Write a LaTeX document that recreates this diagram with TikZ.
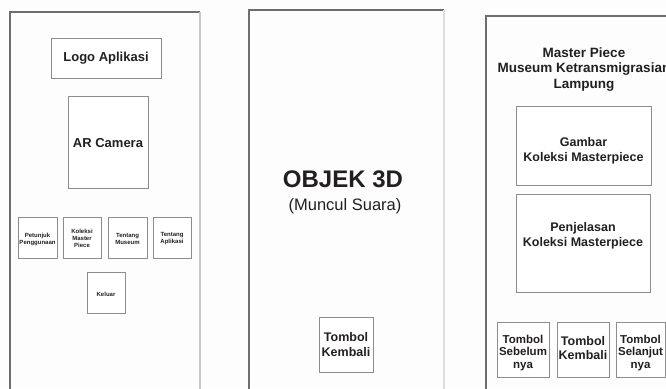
\documentclass[tikz,border=0pt]{standalone}
\usepackage{fontspec}
\setmainfont{Liberation Sans}
\definecolor{txt}{HTML}{231F20}
\definecolor{frame}{HTML}{6E6E6E}
\definecolor{lightframe}{HTML}{C8C8C8}
\definecolor{boxline}{HTML}{8C8C8C}
\definecolor{bg}{HTML}{FDFDFD}
\begin{document}
\begin{tikzpicture}[x=1pt,y=-1pt,
  box/.style={draw=boxline, line width=0.8pt, fill=white, inner sep=0pt},
  lbl/.style={inner sep=0pt, align=center, text=txt},
  tiny/.style={lbl, font=\fontsize{6}{7}\selectfont\bfseries},
  mid/.style={lbl, font=\fontsize{12.5}{14.5}\selectfont\bfseries},
  btn/.style={lbl, font=\fontsize{11.5}{12.5}\selectfont\bfseries}]
\fill[bg] (0,0) rectangle (666,388);
\useasboundingbox (0,0) rectangle (666,388);
% panel 1
\draw[frame, line width=1.2pt] (10,390) -- (10,12) -- (200,12);
\draw[lightframe, line width=1.2pt] (200,12) -- (200,390);
\node[box, minimum width=110pt, minimum height=40pt] (logo) at (106,58) {};
\node[lbl, font=\fontsize{13}{15}\selectfont\bfseries] (logot) at (106,58) {Logo Aplikasi};
\node[box, minimum width=80pt, minimum height=92pt] (cam) at (108,142) {};
\node[lbl, font=\fontsize{13}{15}\selectfont\bfseries] (camt) at (108,143) {AR Camera};
\node[box, minimum width=39pt, minimum height=41pt] (pet) at (37.5,237.5) {};
\node[tiny] (pett) at (37.5,239.5) {Petunjuk\\Penggunaan};
\node[box, minimum width=38pt, minimum height=41pt] (kol) at (82,237.5) {};
\node[tiny] (kolt) at (82,238.5) {Koleksi\\Master\\Piece};
\node[box, minimum width=39pt, minimum height=41pt] (tmu) at (127.5,237.5) {};
\node[tiny] (tmut) at (127.5,239) {Tentang\\Museum};
\node[box, minimum width=38pt, minimum height=41pt] (tap) at (172,237.5) {};
\node[tiny] (tapt) at (172,239) {Tentang\\Aplikasi};
\node[box, minimum width=38pt, minimum height=41pt] (kel) at (106,292.5) {};
\node[tiny] (kelt) at (106,294) {Keluar};
% panel 2
\draw[frame, line width=1.2pt] (249,390) -- (249,10) -- (444,10);
\draw[lightframe!60, line width=1.2pt] (444,10) -- (444,390);
\node[lbl, font=\fontsize{24}{26}\selectfont\bfseries, anchor=base] (obj) at (343,187) {OBJEK 3D};
\node[lbl, font=\fontsize{16.5}{18}\selectfont, anchor=base] (mun) at (345,210) {(Muncul Suara)};
\node[box, minimum width=54pt, minimum height=55pt] (kem1) at (346,344.5) {};
\node[mid] (kem1t) at (346,344.5) {Tombol\\Kembali};
% panel 3
\draw[frame, line width=1.2pt] (486,390) -- (486,16) -- (670,16);
\node[lbl, font=\fontsize{13.5}{15.5}\selectfont\bfseries] (title) at (584,69.5) {Master Piece\\Museum Ketransmigrasian\\Lampung};
\node[box, minimum width=135pt, minimum height=79pt] (gam) at (583.5,145.5) {};
\node[lbl, font=\fontsize{12.5}{15}\selectfont\bfseries] (gamt) at (583.5,150.5) {Gambar\\Koleksi Masterpiece};
\node[box, minimum width=134pt, minimum height=98pt] (pen) at (583,243) {};
\node[lbl, font=\fontsize{12.5}{15}\selectfont\bfseries] (pent) at (583,235.5) {Penjelasan\\Koleksi Masterpiece};
\node[box, minimum width=52pt, minimum height=55pt] (seb) at (523,349.5) {};
\node[btn] (sebt) at (523,353) {Tombol\\Sebelum\\nya};
\node[box, minimum width=52pt, minimum height=55pt] (kem2) at (583,349.5) {};
\node[mid] (kem2t) at (583,348) {Tombol\\Kembali};
\node[box, minimum width=49pt, minimum height=55pt] (sel) at (640.5,349.5) {};
\node[btn] (selt) at (640.5,353) {Tombol\\Selanjut\\nya};
\end{tikzpicture}
\end{document}
